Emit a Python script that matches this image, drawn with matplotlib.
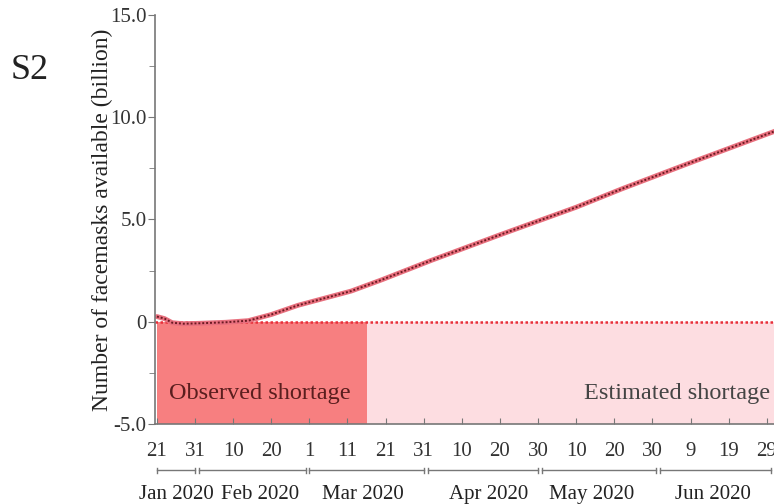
import numpy as np
import matplotlib
matplotlib.use('Agg')
import matplotlib.pyplot as plt
import matplotlib.transforms as mtransforms

plt.rcParams['font.family'] = ['Liberation Serif', 'DejaVu Serif']

# facemask balance (billion)
dates = np.array(['2020-01-21', '2020-01-23', '2020-01-25', '2020-01-28', '2020-02-01',
                  '2020-02-08', '2020-02-14', '2020-02-20', '2020-02-27', '2020-03-05',
                  '2020-03-12', '2020-03-20', '2020-04-02', '2020-04-20', '2020-05-10',
                  '2020-05-22', '2020-06-10', '2020-07-03'], dtype='datetime64[D]')
masks = [0.25, 0.15, -0.05, -0.1, -0.08, -0.03, 0.05, 0.35, 0.8, 1.15,
         1.5, 2.05, 3.0, 4.25, 5.6, 6.5, 7.85, 9.45]

obs_start, obs_end = np.datetime64('2020-01-21'), np.datetime64('2020-03-16')
est_end = np.datetime64('2020-07-05')

tick_dates = np.arange(np.datetime64('2020-01-21'), np.datetime64('2020-07-01'), 10)
months = ['Jan 2020', 'Feb 2020', 'Mar 2020', 'Apr 2020', 'May 2020', 'Jun 2020']
month_start = np.array(['2020-01-21', '2020-02-01', '2020-03-01', '2020-04-01',
                        '2020-05-01', '2020-06-01'], dtype='datetime64[D]')
month_end = np.array(['2020-01-31', '2020-02-29', '2020-03-31', '2020-04-30',
                      '2020-05-31', '2020-06-30'], dtype='datetime64[D]')
month_label_at = np.array(['2020-01-26', '2020-02-17', '2020-03-15', '2020-04-17',
                           '2020-05-14', '2020-06-15'], dtype='datetime64[D]')

fig = plt.figure(figsize=(7.74, 5.04), dpi=100)
ax = fig.add_axes([0.2003, 0.159, 0.81, 0.811])

ax.fill_between([obs_start, obs_end], -5, 0, color='#f77f80', lw=0)
ax.fill_between([obs_end, est_end], -5, 0, color='#fddde1', lw=0)
ax.axhline(0, color='#e8303a', lw=1.8, ls=(0, (1, 1)))

ax.plot(dates, masks, color='#e8707e', lw=3.5, solid_capstyle='round')
ax.plot(dates, masks, color='#6b1a22', lw=1.4, ls=(0, (1, 1)))

ax.text(obs_start + np.timedelta64(27, 'D'), -3.5, 'Observed shortage', fontsize=17.5,
        color='#5a1e1e', ha='center', va='center')
ax.text(np.datetime64('2020-06-30'), -3.5, 'Estimated shortage', fontsize=17.5,
        color='#444444', ha='right', va='center')

ax.set_xlim(np.datetime64('2020-01-20T12'), np.datetime64('2020-07-03'))
ax.set_ylim(-5, 15)
ax.set_yticks([-5, 0, 5, 10, 15])
ax.set_yticklabels(['-5.0', '0', '5.0', '10.0', '15.0'])
ax.set_yticks([-2.5, 2.5, 7.5, 12.5], minor=True)
ax.set_xticks(tick_dates)
ax.set_xticklabels([str(d.astype(object).day) for d in tick_dates])

for s in ['top', 'right']:
    ax.spines[s].set_visible(False)
for s in ['left', 'bottom']:
    ax.spines[s].set_color('#777777')
    ax.spines[s].set_linewidth(1.2)
ax.tick_params(axis='y', which='major', length=5, color='#777777', labelsize=15,
               labelcolor='#333333', pad=1)
ax.tick_params(axis='y', which='minor', length=4, color='#777777')
ax.tick_params(axis='x', direction='in', length=4, color='#777777', labelsize=15,
               labelcolor='#333333', pad=13)

ax.set_ylabel('Number of facemasks available (billion)', fontsize=17, color='#222222',
              labelpad=-2)

# month brackets under the day ticks
trans = mtransforms.blended_transform_factory(ax.transData, ax.transAxes)
by = -0.113
for name, a, b, m in zip(months, month_start, month_end, month_label_at):
    ax.plot([a, b], [by, by], color='#777777', lw=1, transform=trans, clip_on=False)
    for e in (a, b):
        ax.plot([e, e], [by - 0.006, by + 0.006], color='#777777', lw=1,
                transform=trans, clip_on=False)
    ax.text(m, -0.172, name, fontsize=15, color='#222222', ha='center', va='center',
            transform=trans, clip_on=False)

fig.text(0.039, 0.861, 'S2', fontsize=26, color='#222222', ha='center', va='center')

fig.savefig('out.png', dpi=100)
